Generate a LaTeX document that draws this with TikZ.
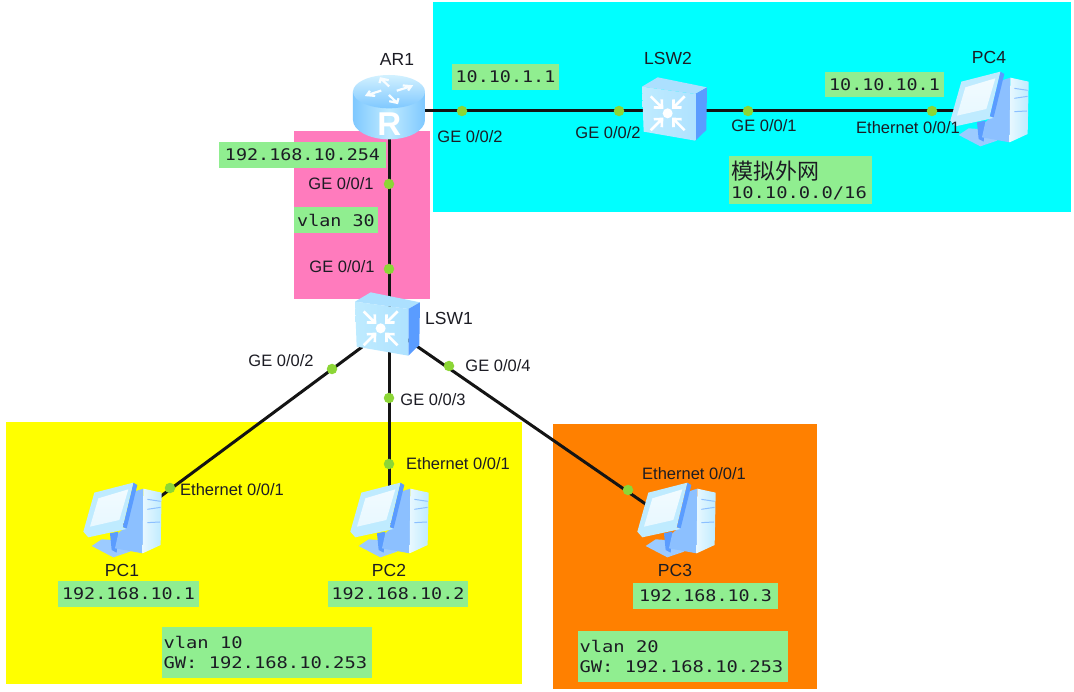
\documentclass[tikz,border=0pt]{standalone}
\usepackage{fontspec}
\setmainfont{Liberation Sans}
\newfontfamily\monof[FakeStretch=1.15]{DejaVu Sans Mono}
\newfontfamily\monow[FakeStretch=1.175]{DejaVu Sans Mono}
\newfontfamily\cjkf{Noto Sans CJK SC}
\newcommand\msp{\hspace*{11.3pt}}
\definecolor{lblgreen}{HTML}{90EE90}
\definecolor{dotgreen}{HTML}{8CD636}
\definecolor{pinkbg}{HTML}{FF7BBD}
\definecolor{orangebg}{HTML}{FF8000}
\definecolor{cyanbg}{HTML}{00FFFF}
\definecolor{yellowbg}{HTML}{FFFF00}
\definecolor{txt}{HTML}{1C1C24}
\definecolor{blueA}{HTML}{BFEBFF}
\definecolor{blueB}{HTML}{7FC8FF}
\definecolor{blueC}{HTML}{5A9CFF}
\definecolor{blueD}{HTML}{E8F8FF}
\definecolor{blueE}{HTML}{9CCBFF}
\definecolor{blueF}{HTML}{8CC0FF}
\tikzset{
  panel/.style={fill=#1,draw=none},
  devpoint/.style={inner sep=0pt,minimum size=1pt,draw=none},
  wire/.style={line width=3pt,draw=black!92},
  portdot/.style={circle,fill=dotgreen,draw=none,inner sep=0pt,minimum size=10.5pt},
  port/.style={font=\fontsize{16.5}{18}\selectfont,text=txt,inner sep=0pt},
  devname/.style={font=\fontsize{17.5}{19}\selectfont,text=txt,inner sep=0pt},
  greenbox/.style={fill=lblgreen,draw=none,inner sep=0pt,text=txt,font=\monof\fontsize{16}{20}\selectfont},
  greenwide/.style={greenbox,font=\monow\fontsize{16}{20}\selectfont,align=left},
  chev/.style={draw=white,line width=2.6pt,line cap=butt,line join=miter},
  pics/routericon/.style={code={
    \begin{scope}[x=0.3333pt,y=-0.3333pt,shift={(-99pt,71pt)}]
      \path[left color=blueB,right color=blueB,middle color=blueA]
        (189,155) -- (189,240) arc[start angle=180,end angle=0,x radius=108,y radius=58] -- (405,155) -- cycle;
      \path[top color=blueA!70!white,bottom color=blueB] (297,155) ellipse[x radius=108,y radius=50];
      \foreach \a in {-60,30,120,210}{
        \begin{scope}[shift={(297,152)},yscale=0.55,rotate=\a]
          \draw[chev,line width=2.2pt,white!90!blueA] (20,12) -- (68,12) (50,-4) -- (70,12) -- (50,28);
        \end{scope}}
      \node[text=white,font=\fontsize{33}{33}\selectfont\bfseries,inner sep=0pt] at (298,252) {R};
    \end{scope}}},
  pics/switchicon/.style={code={
    \begin{scope}[x=0.3333pt,y=-0.3333pt,shift={(-59pt,42pt)}]
      \fill[blueA!70!blueB] (75,50) -- (122,22) -- (270,52) -- (235,72) -- cycle;
      \fill[blueC] (235,72) -- (270,52) -- (268,180) -- (235,212) -- cycle;
      \path[left color=blueA,right color=blueA!75!blueB] (75,50) -- (235,72) -- (235,212) -- (80,185) -- cycle;
      \fill[white] (152,130) circle[radius=15];
      \foreach \a/\r in {-135/1,-45/1,45/1,135/1}{
        \begin{scope}[shift={(152,130)},rotate=\a]
          \draw[chev] (72,0) -- (26,0) (42,-17) -- (24,0) -- (42,17);
        \end{scope}}
    \end{scope}}},
  pics/pcicon/.style={code={
    \begin{scope}[x=0.3333pt,y=-0.3333pt,shift={(-62pt,55pt)}]
      \fill[blueE] (95,228) -- (125,208) -- (230,215) -- (210,245) -- (160,262) -- cycle;
      \fill[blueC] (150,190) -- (175,185) -- (170,248) -- (155,240) -- cycle;
      \fill[blueF] (222,65) -- (250,56) -- (248,250) -- (165,235) -- (175,190) -- (192,175) -- cycle;
      \path[left color=blueD,right color=blueA] (250,56) -- (305,68) -- (302,225) -- (248,250) -- cycle;
      \draw[blueF,line width=1pt] (262,88) -- (302,94) (262,118) -- (302,112) (262,158) -- (300,156);
      \fill[blueC] (220,38) -- (232,45) -- (200,175) -- (188,172) -- cycle;
      \fill[blueA] (103,68) -- (220,38) -- (188,172) -- (200,177) -- (85,202) -- (70,185) -- cycle;
      \path[top color=blueD!60!white,bottom color=blueD] (115,85) -- (205,58) -- (178,150) -- (90,170) -- cycle;
    \end{scope}}}
}
\begin{document}
\begin{tikzpicture}[x=1pt,y=-1pt]
\useasboundingbox (0,0) rectangle (1074,692);
\fill[white] (0,0) rectangle (1074,692);
\fill[panel=cyanbg] (433,2) rectangle (1071,212);
\fill[panel=pinkbg] (294,131) rectangle (430,299);
\fill[panel=yellowbg] (6,422) rectangle (522,684);
\fill[panel=orangebg] (553,424) rectangle (817,689);
\node[devpoint] (AR1) at (389,111) {};
\node[devpoint] (LSW1) at (389,327) {};
\node[devpoint] (LSW2) at (676,112) {};
\node[devpoint] (PC1) at (122,525) {};
\node[devpoint] (PC2) at (389,525) {};
\node[devpoint] (PC3) at (676,525) {};
\node[devpoint] (PC4) at (989,114) {};
\draw[wire] (AR1) -- (LSW2 |- AR1);
\draw[wire] (LSW2 |- AR1) -- (PC4 |- AR1);
\draw[wire] (AR1) -- (LSW1);
\draw[wire] (LSW1) -- (PC1);
\draw[wire] (LSW1) -- (PC2);
\draw[wire] (LSW1) -- (PC3);
\node[portdot] (d1) at (462,111) {};
\node[portdot] (d2) at (619,111) {};
\node[portdot] (d3) at (748,111) {};
\node[portdot] (d4) at (932,111) {};
\node[portdot] (d5) at (389,184) {};
\node[portdot] (d6) at (389,269) {};
\node[portdot] (d7) at (332,369) {};
\node[portdot] (d8) at (389,398) {};
\node[portdot] (d9) at (449,366) {};
\node[portdot] (d10) at (170,488) {};
\node[portdot] (d11) at (389,464) {};
\node[portdot] (d12) at (628,490) {};
\pic at (AR1) {routericon};
\pic at (LSW1) {switchicon};
\pic at (LSW2) {switchicon};
\pic at (PC1) {pcicon};
\pic at (PC2) {pcicon};
\pic at (PC3) {pcicon};
\pic at (PC4) {pcicon};
\node[devname] (nAR1) at (397,59) {AR1};
\node[devname] (nLSW2) at (668,58) {LSW2};
\node[devname] (nPC4) at (989,57) {PC4};
\node[devname] (nLSW1) at (449,318) {LSW1};
\node[devname] (nPC1) at (122,570) {PC1};
\node[devname] (nPC2) at (389,570) {PC2};
\node[devname] (nPC3) at (675,570) {PC3};
\node[port] (p1) at (470,137) {GE 0/0/2};
\node[port] (p2) at (608,133) {GE 0/0/2};
\node[port] (p3) at (764,126) {GE 0/0/1};
\node[port] (p4) at (908,128) {Ethernet 0/0/1};
\node[port] (p5) at (341,184) {GE 0/0/1};
\node[port] (p6) at (342,267) {GE 0/0/1};
\node[port] (p7) at (281,361) {GE 0/0/2};
\node[port] (p8) at (433,400) {GE 0/0/3};
\node[port] (p9) at (498,366) {GE 0/0/4};
\node[port] (p10) at (232,490) {Ethernet 0/0/1};
\node[port] (p11) at (458,464) {Ethernet 0/0/1};
\node[port] (p12) at (694,474) {Ethernet 0/0/1};
\node[greenbox,minimum width=107pt,minimum height=26pt] (g1) at (505.5,77) {10.10.1.1};
\node[greenbox,minimum width=119pt,minimum height=25pt] (g2) at (884.5,84.5) {10.10.10.1};
\node[greenwide,minimum width=143pt,minimum height=48pt,text width=139pt] (g3) at (800.5,180)
  {{\cjkf\fontsize{22}{26}\selectfont 模拟外网}\\[-1pt]10.10.0.0/16};
\node[greenbox,minimum width=167pt,minimum height=26pt] (g4) at (302.5,155) {192.168.10.254};
\node[greenbox,minimum width=84pt,minimum height=26pt] (g5) at (336,220) {vlan 30};
\node[greenbox,minimum width=141pt,minimum height=26pt] (g6) at (128.5,594) {192.168.10.1};
\node[greenbox,minimum width=140pt,minimum height=26pt] (g7) at (398,594) {192.168.10.2};
\node[greenbox,minimum width=145pt,minimum height=26pt] (g8) at (705.5,596) {192.168.10.3};
\node[greenwide,minimum width=210pt,minimum height=51pt,text width=207pt] (g9) at (267,652.5)
  {vlan\msp 10\\GW:\msp 192.168.10.253};
\node[greenwide,minimum width=210pt,minimum height=51pt,text width=207pt] (g10) at (683,656.5)
  {vlan\msp 20\\GW:\msp 192.168.10.253};
\end{tikzpicture}
\end{document}
